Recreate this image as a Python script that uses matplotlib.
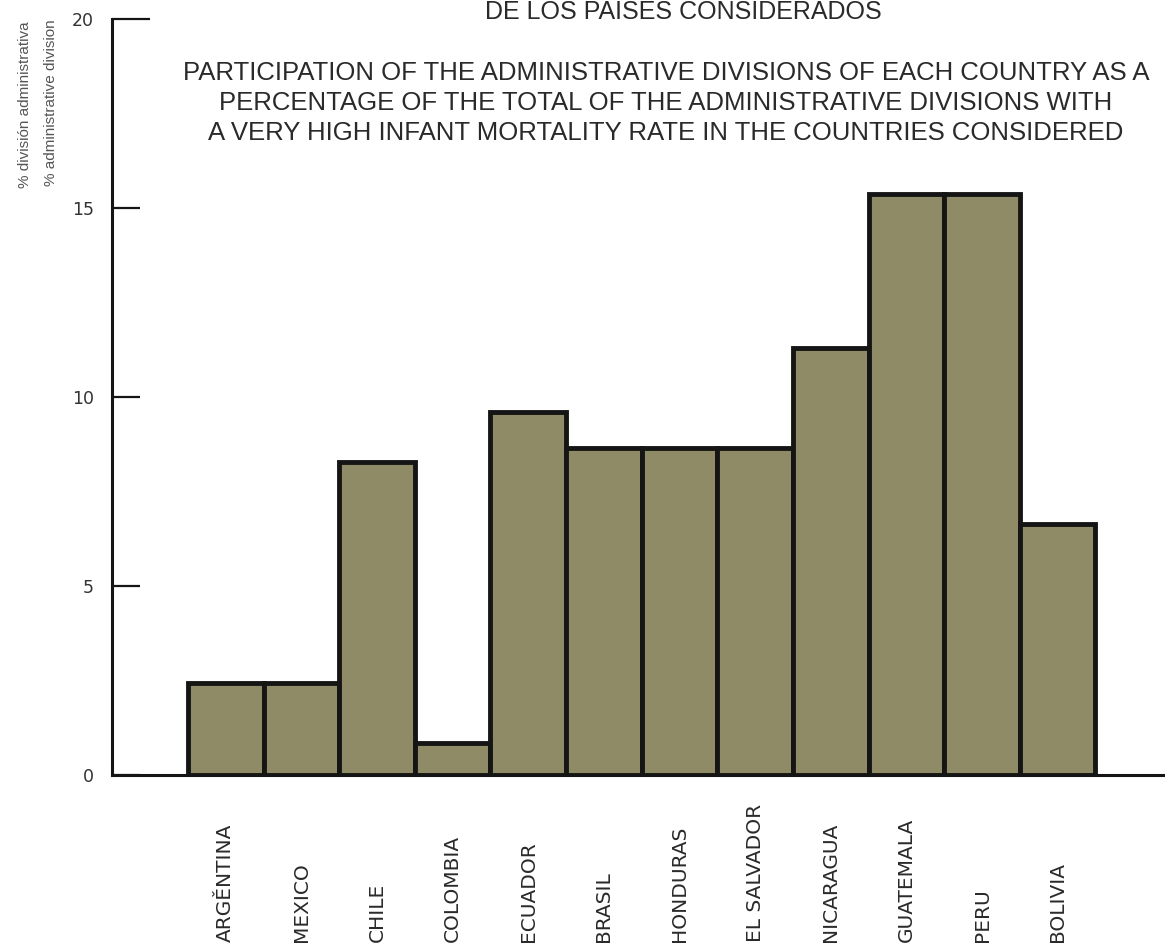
import matplotlib
matplotlib.use("Agg")
import matplotlib.pyplot as plt
import matplotlib.transforms as mtransforms

# data
countries = ["ARGĚNTINA", "MEXICO", "CHILE", "COLOMBIA", "ECUADOR", "BRASIL",
             "HONDURAS", "EL SALVADOR", "NICARAGUA", "GUATEMALA", "PERU", "BOLIVIA"]
pct = [2.43, 2.43, 8.28, 0.85, 9.6, 8.65, 8.65, 8.65, 11.3, 15.37, 15.37, 6.64]
yticks = [0, 5, 10, 15, 20]

title_es = "DE LOS PAISES CONSIDERADOS"
title_en = ("PARTICIPATION OF THE ADMINISTRATIVE DIVISIONS OF EACH COUNTRY AS A\n"
            "PERCENTAGE OF THE TOTAL OF THE ADMINISTRATIVE DIVISIONS WITH\n"
            "A VERY HIGH INFANT MORTALITY RATE IN THE COUNTRIES CONSIDERED")

W, H = 1165, 948
fig = plt.figure(figsize=(W / 100, H / 100), dpi=100)
fig.patch.set_facecolor("white")
narrow = ["Liberation Sans Narrow", "Liberation Sans", "DejaVu Sans"]
plain = ["Liberation Sans", "DejaVu Sans"]

# axes placed in pixel units
ax = fig.add_axes([112 / W, 173 / H, (W - 112) / W, 756 / H])
x = list(range(len(countries)))
ax.bar(x, pct, width=1.0, color="#8e8b66", edgecolor="#151515", linewidth=3.5, zorder=2)
ax.set_xlim(-1.505, 12.42)
ax.set_ylim(0, 20)

for s in ["top", "right"]:
    ax.spines[s].set_visible(False)
ax.spines["left"].set_linewidth(2.2)
ax.spines["bottom"].set_linewidth(2.2)
ax.spines["left"].set_color("#151515")
ax.spines["bottom"].set_color("#151515")

ax.set_xticks([])
ax.set_yticks(yticks)
ax.set_yticklabels([str(v) for v in yticks], family="DejaVu Sans", fontsize=12.5, color="#333333")
ax.tick_params(axis="y", direction="in", length=20, width=1.6, pad=13, color="#151515")
# top tick is drawn longer
ax.yaxis.get_major_ticks()[-1].tick1line.set_markersize(27)

# country labels, rotated and bottom aligned
trans = mtransforms.blended_transform_factory(ax.transData, fig.transFigure)
for xi, name in zip(x, countries):
    ax.text(xi, 6 / H, name, rotation=90, ha="center", va="bottom", transform=trans,
            family="DejaVu Sans", fontsize=14.5, color="#2a2a2a")

# titles
fig.text(683 / W, 1 - 12 / H, title_es, ha="center", va="center",
         family=narrow, fontsize=18, color="#2a2a2a")
fig.text(666 / W, 1 - 103 / H, title_en, ha="center", va="center",
         family=narrow, fontsize=18.5, color="#2a2a2a", linespacing=1.3, multialignment="center")

# y axis labels
fig.text(25 / W, 1 - 105 / H, "% división administrativa", rotation=90, ha="center", va="center",
         family=plain, fontsize=11, color="#555555")
fig.text(51 / W, 1 - 103 / H, "% administrative division", rotation=90, ha="center", va="center",
         family=plain, fontsize=11, color="#555555")

fig.savefig("out.png", dpi=100, facecolor="white")
